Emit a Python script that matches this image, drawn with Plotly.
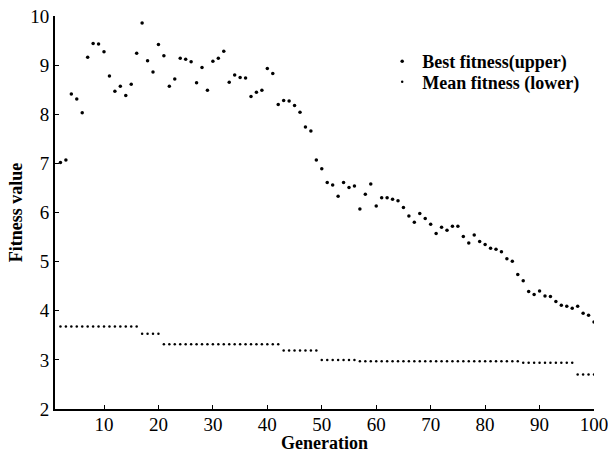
import plotly.graph_objects as go

# Generations 2..100
generations = list(range(2, 101))

best_fitness = [
    7.02, 7.07, 8.41, 8.31, 8.03, 9.16, 9.44, 9.43, 9.27,          # 2-10
    8.78, 8.47, 8.57, 8.38, 8.61, 9.24, 9.86, 9.09, 8.86, 9.42,    # 11-20
    9.19, 8.57, 8.72, 9.14, 9.12, 9.07, 8.64, 8.95, 8.49, 9.08,    # 21-30
    9.14, 9.28, 8.65, 8.80, 8.75, 8.74, 8.36, 8.45, 8.49, 8.93,    # 31-40
    8.83, 8.20, 8.28, 8.27, 8.18, 8.04, 7.74, 7.66, 7.07, 6.89,    # 41-50
    6.61, 6.56, 6.33, 6.61, 6.51, 6.54, 6.07, 6.37, 6.58, 6.13,    # 51-60
    6.30, 6.30, 6.27, 6.24, 6.10, 5.93, 5.80, 5.98, 5.88, 5.76,    # 61-70
    5.57, 5.70, 5.64, 5.72, 5.72, 5.51, 5.38, 5.54, 5.41, 5.35,    # 71-80
    5.27, 5.25, 5.20, 5.06, 5.01, 4.74, 4.61, 4.39, 4.33, 4.40,    # 81-90
    4.30, 4.29, 4.19, 4.11, 4.09, 4.05, 4.09, 3.95, 3.91, 3.77,    # 91-100
]

mean_fitness = (
    [3.68] * 15    # 2-16
    + [3.53] * 4   # 17-20
    + [3.32] * 22  # 21-42
    + [3.19] * 7   # 43-49
    + [3.00] * 7   # 50-56
    + [2.97] * 30  # 57-86
    + [2.94] * 10  # 87-96
    + [2.70] * 4   # 97-100
)

x_ticks = [10, 20, 30, 40, 50, 60, 70, 80, 90, 100]
y_ticks = [2, 3, 4, 5, 6, 7, 8, 9, 10]

serif = "Liberation Serif, Times New Roman, serif"
legend_font = dict(family=serif, size=18, color="black", weight="bold")

fig = go.Figure()
fig.add_trace(go.Scatter(
    x=generations, y=best_fitness, mode="markers",
    name="Best fitness(upper)", legend="legend",
    marker=dict(color="black", size=3.5),
))
fig.add_trace(go.Scatter(
    x=generations, y=mean_fitness, mode="markers",
    name="Mean fitness (lower)", legend="legend2",
    marker=dict(color="black", size=2.5),
))

axis_common = dict(
    showgrid=False, zeroline=False, automargin=False,
    showline=True, linecolor="black", linewidth=2,
    ticks="inside", ticklen=4, tickcolor="black", tickwidth=1,
    tickfont=dict(family=serif, size=19, color="black"),
    ticklabeloverflow="allow",
)

fig.update_xaxes(
    range=[1, 100], tickvals=x_ticks, ticklabelstandoff=-3,
    title=dict(text="Generation", standoff=0,
               font=dict(family=serif, size=18, color="black", weight="bold")),
    **axis_common,
)
fig.update_yaxes(
    range=[2, 10], tickvals=y_ticks,
    title=dict(text="Fitness value", standoff=3,
               font=dict(family=serif, size=18, color="black", weight="bold")),
    **axis_common,
)

fig.update_layout(
    width=608, height=453,
    margin=dict(l=55, r=14, t=16, b=44),
    paper_bgcolor="white", plot_bgcolor="white",
    showlegend=True,
    legend=dict(
        x=0.607, y=0.931, xanchor="left", yanchor="top",
        bgcolor="rgba(0,0,0,0)", font=legend_font, itemwidth=30,
    ),
    legend2=dict(
        x=0.607, y=0.879, xanchor="left", yanchor="top",
        bgcolor="rgba(0,0,0,0)", font=legend_font, itemwidth=30,
    ),
)

fig.write_html("out.html")
